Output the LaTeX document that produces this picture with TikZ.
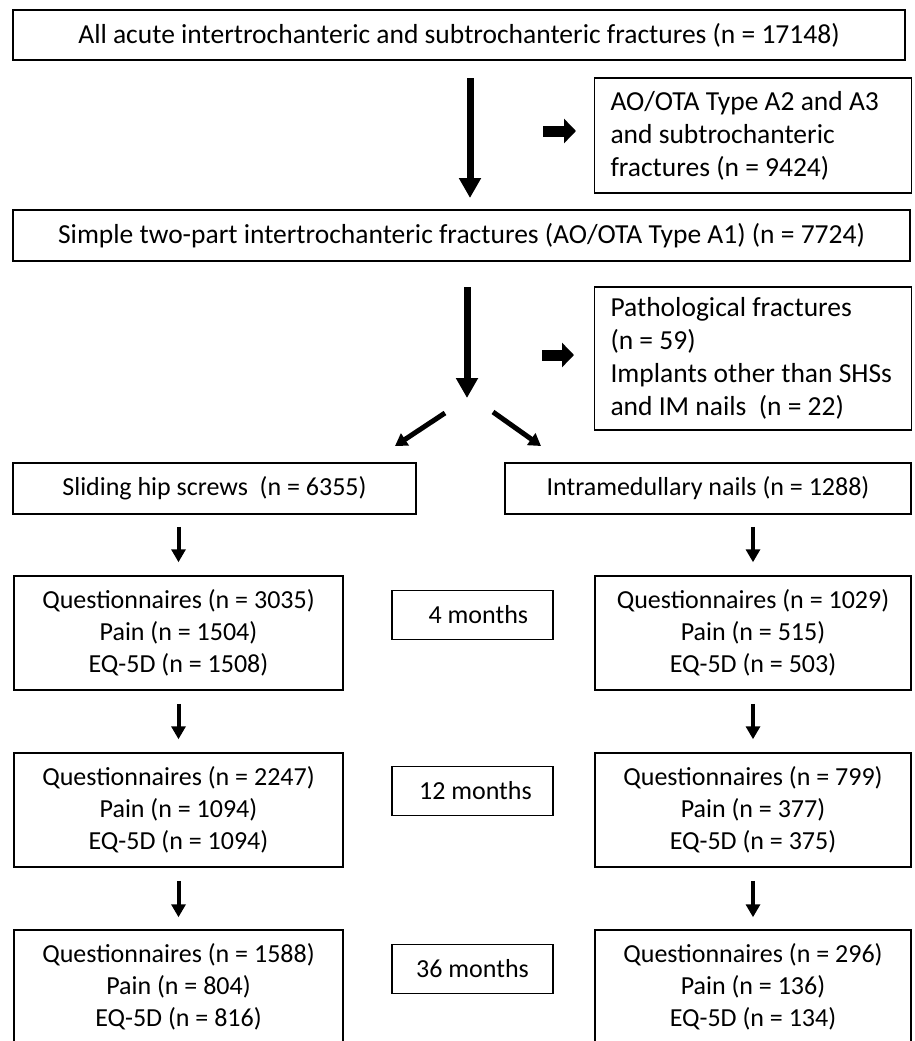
\documentclass[tikz,border=0pt]{standalone}
\usepackage{fontspec}
\setmainfont{Carlito}
\usetikzlibrary{arrows.meta}
\begin{document}
\begin{tikzpicture}[x=1pt,y=-1pt,
  myb/.style={rectangle, draw, line width=1.5pt, inner sep=0pt, align=center, font=\fontsize{26}{32}\selectfont},
  myw/.style={myb, font=\fontsize{27.5}{32}\selectfont},
  myb1/.style={myb, align=flush left, text width=285pt, inner xsep=16pt, minimum width=316pt, font=\fontsize{27.5}{33}\selectfont},
  myq/.style={myb, minimum width=329pt, minimum height=114pt},
  myq1/.style={myb, minimum width=316pt, minimum height=114pt},
  mym/.style={myb, minimum width=161pt, minimum height=49pt},
  mya/.style={line width=7pt, -{Triangle[width=21pt,length=20pt]}},
  mya1/.style={line width=4pt, -{Triangle[width=14pt,length=13pt]}},
  mya2/.style={line width=11pt, -{Triangle[width=24pt,length=12pt]}},
  mya3/.style={line width=5pt, -{Triangle[width=14pt,length=12pt]}}]
  \useasboundingbox (0,0) rectangle (914,1041);
  \clip (0,0) rectangle (914,1041);

  \node[myw, minimum width=892pt, minimum height=50pt] (all) at (459,35) {All acute intertrochanteric and subtrochanteric fractures (n = 17148)};
  \node[myb1, minimum height=115pt] (ex1) at (753,135.5) {AO/OTA Type A2 and A3\\and subtrochanteric\\fractures (n = 9424)};
  \node[myw, minimum width=897pt, minimum height=51pt] (simple) at (461.5,235.5) {Simple two-part intertrochanteric fractures (AO/OTA Type A1) (n = 7724)};
  \node[myb1, minimum height=143pt] (ex2) at (753,358.5) {Pathological fractures\\(n = 59)\\Implants other than SHSs\\and IM nails\ \ (n = 22)};

  \node[myb, minimum width=403pt, minimum height=51pt] (shs) at (214.5,488.5) {Sliding hip screws\ \ (n = 6355)};
  \node[myb, minimum width=406pt, minimum height=51pt] (imn) at (708,488.5) {Intramedullary nails (n = 1288)};

  \node[myq] (q4l) at (178.5,633) {Questionnaires (n = 3035)\\Pain (n = 1504)\\EQ-5D (n = 1508)};
  \node[mym] (m4) at (472.5,615) {\ \ 4 months};
  \node[myq1] (q4r) at (753,633) {Questionnaires (n = 1029)\\Pain (n = 515)\\EQ-5D (n = 503)};

  \node[myq] (q12l) at (178.5,810) {Questionnaires (n = 2247)\\Pain (n = 1094)\\EQ-5D (n = 1094)};
  \node[mym] (m12) at (472.5,791) {\ 12 months};
  \node[myq1] (q12r) at (753,810) {Questionnaires (n = 799)\\Pain (n = 377)\\EQ-5D (n = 375)};

  \node[myq] (q36l) at (178.5,987) {Questionnaires (n = 1588)\\Pain (n = 804)\\EQ-5D (n = 816)};
  \node[mym] (m36) at (472.5,969) {36 months};
  \node[myq1] (q36r) at (753,987) {Questionnaires (n = 296)\\Pain (n = 136)\\EQ-5D (n = 134)};

  \coordinate (t1) at (470,78);
  \coordinate (h1) at (470,198);
  \coordinate (t2) at (467,287);
  \coordinate (h2) at (467,398);
  \coordinate (s1) at (543,131);
  \coordinate (e1) at (576,131);
  \coordinate (s2) at (542,355);
  \coordinate (e2) at (574,355);
  \coordinate (dl) at (445,413);
  \coordinate (dr) at (493,412);

    \draw[mya] (t1) -- (h1);
    \draw[mya2] (s1) -- (e1);
    \draw[mya] (t2) -- (h2);
    \draw[mya2] (s2) -- (e2);
    \draw[mya3] (dl) -- (395,446);
    \draw[mya3] (dr) -- (541,446);

    \draw[mya1, shorten <=12pt, shorten >=13pt] (q4l.north |- shs.south) -- (q4l.north);
    \draw[mya1, shorten <=12pt, shorten >=13pt] (q4r.north |- imn.south) -- (q4r.north);
    \draw[mya1, shorten <=13pt, shorten >=13pt] (q4l.south) -- (q12l.north);
    \draw[mya1, shorten <=13pt, shorten >=13pt] (q4r.south) -- (q12r.north);
    \draw[mya1, shorten <=13pt, shorten >=12pt] (q12l.south) -- (q36l.north);
    \draw[mya1, shorten <=13pt, shorten >=12pt] (q12r.south) -- (q36r.north);
\end{tikzpicture}
\end{document}
